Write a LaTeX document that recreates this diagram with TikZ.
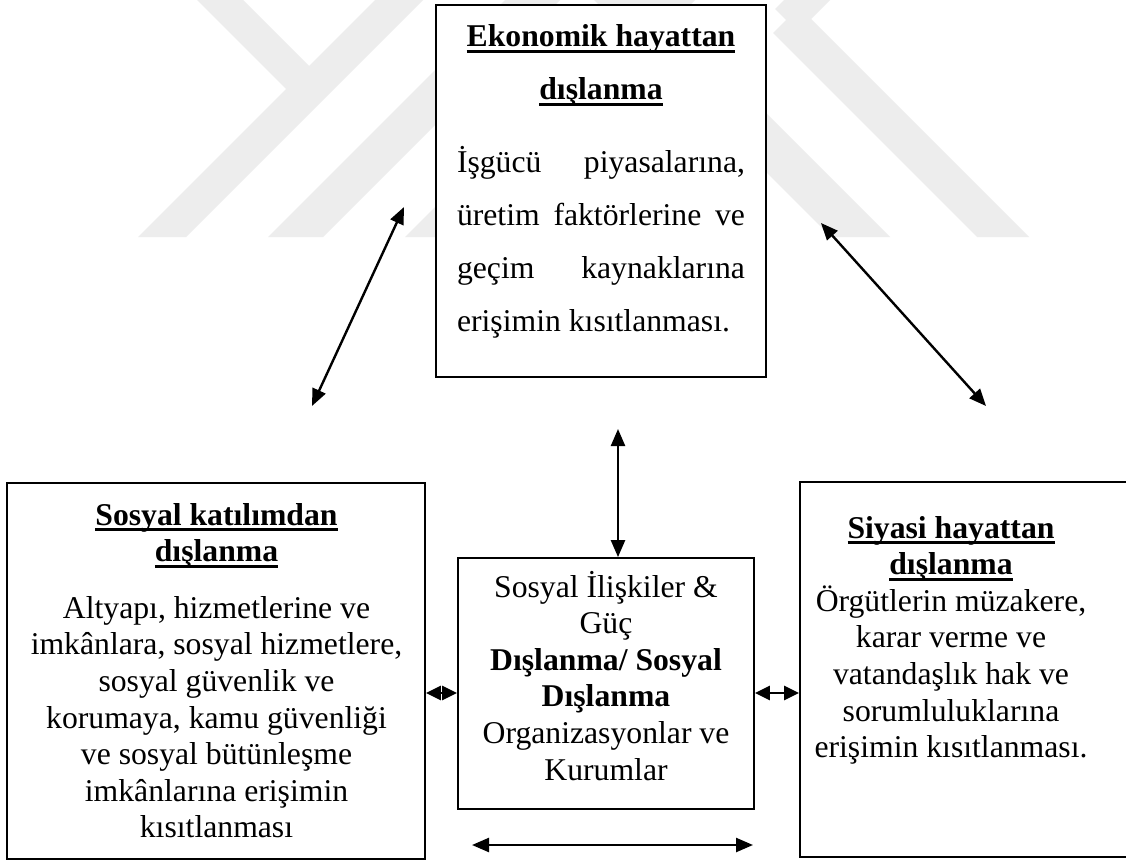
\documentclass[tikz,border=0pt]{standalone}
\usepackage{fontspec}
\setmainfont{Liberation Serif}
\usetikzlibrary{arrows.meta}
\definecolor{wmgray}{gray}{0.93}
\newcommand\myul[1]{\setbox0=\hbox{#1}\rlap{\rule[-6pt]{\wd0}{2.8pt}}\box0}
\begin{document}
\begin{tikzpicture}[x=1pt,y=-1pt,
  box/.style={draw=black,fill=white,line width=1.8pt,inner sep=0pt},
  txt/.style={anchor=base,inner sep=0pt,font=\fontsize{31.7}{36.6}\selectfont},
  dbl/.style={line width=2.4pt,{Triangle[length=17pt,width=14pt]}-{Triangle[length=17pt,width=14pt]}},
  dblsmall/.style={line width=2.4pt,{Triangle[length=15pt,width=14pt]}-{Triangle[length=15pt,width=14pt]}},
  wm/.style={fill=wmgray}]
\useasboundingbox (0,0) rectangle (1126,864);
\fill[white] (0,0) rectangle (1126,864);
% watermark
\fill[wm] (375,0) -- (423,0) -- (186,237) -- (138,237) -- cycle;
\fill[wm] (197,0) -- (243,0) -- (321.5,78.5) -- (298.5,101.5) -- cycle;
\fill[wm] (505,0) -- (560,0) -- (323,237) -- (268,237) -- cycle;
\fill[wm] (642,0) -- (695,0) -- (458,237) -- (405,237) -- cycle;
\fill[wm] (773,33) -- (799,7) -- (1029,237) -- (977,237) -- cycle;
\fill[wm] (784,0) -- (830,0) -- (798,32) -- (775,9) -- cycle;
\fill[wm] (594,0) -- (653,0) -- (890,237) -- (831,237) -- cycle;
% boxes
\node[box,minimum width=330pt,minimum height=372pt] (eko) at (601,191) {};
\node[box,minimum width=418pt,minimum height=376pt] (sos) at (216,671) {};
\node[box,minimum width=296pt,minimum height=251pt] (mid) at (606,683.5) {};
\node[box,minimum width=335pt,minimum height=375pt] (siy) at (967.5,669.5) {};
% texts
\node[txt,font=\fontsize{31.7}{53}\selectfont] (ekot) at (601,47) {\begin{tabular}[t]{@{}c@{}}
\textbf{\myul{Ekonomik hayattan}}\\
\textbf{\myul{dışlanma}}\\[20pt]
\makebox[288pt][s]{İşgücü piyasalarına,}\\
\makebox[288pt][s]{üretim faktörlerine ve}\\
\makebox[288pt][s]{geçim kaynaklarına}\\
\makebox[288pt][l]{erişimin kısıtlanması.}
\end{tabular}};
\node[txt] (sost) at (216.5,525) {\begin{tabular}[t]{@{}c@{}}
\textbf{\myul{Sosyal katılımdan}}\\
\textbf{\myul{dışlanma}}\\[20pt]
Altyapı, hizmetlerine ve\\
imkânlara, sosyal hizmetlere,\\
sosyal güvenlik ve\\
korumaya, kamu güvenliği\\
ve sosyal bütünleşme\\
imkânlarına erişimin\\
kısıtlanması
\end{tabular}};
\node[txt] (midt) at (606,597) {\begin{tabular}[t]{@{}c@{}}
Sosyal İlişkiler \&\\
Güç\\
\textbf{Dışlanma/ Sosyal}\\
\textbf{Dışlanma}\\
Organizasyonlar ve\\
Kurumlar
\end{tabular}};
\node[txt] (siyt) at (951,538) {\begin{tabular}[t]{@{}c@{}}
\textbf{\myul{Siyasi hayattan}}\\
\textbf{\myul{dışlanma}}\\
Örgütlerin müzakere,\\
karar verme ve\\
vatandaşlık hak ve\\
sorumluluklarına\\
erişimin kısıtlanması.
\end{tabular}};
% connectors
\coordinate (la1) at (404,207);
\coordinate (la2) at (312,406);
\coordinate (ra1) at (821,223);
\coordinate (ra2) at (986,406);
\coordinate (va1) at (618,429);
\coordinate (ba1) at (472,845);
\coordinate (ba2) at (753,845);
\coordinate (hy) at (0,693);
\draw[dbl] (la1) -- (la2);
\draw[dbl] (ra1) -- (ra2);
\draw[dbl] (va1) -- (va1 |- mid.north);
\draw[dbl] (ba1) -- (ba2);
\draw[dblsmall] (sos.east |- hy) -- (mid.west |- hy);
\draw[dblsmall] (mid.east |- hy) -- (siy.west |- hy);
\end{tikzpicture}
\end{document}
